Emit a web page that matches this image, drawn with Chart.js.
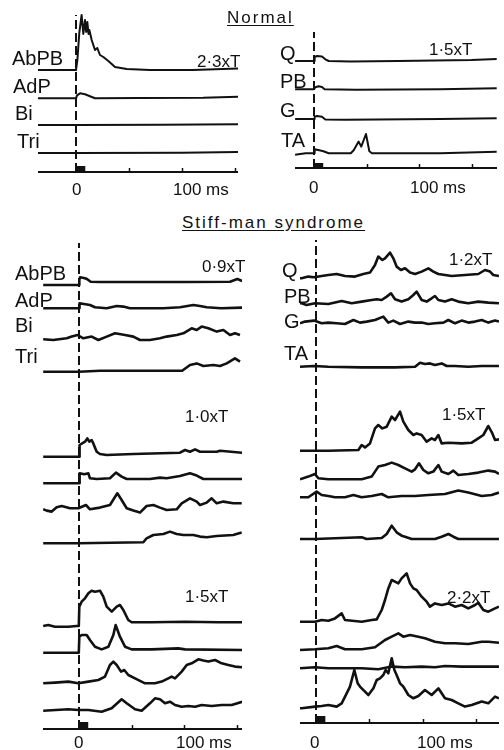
<!DOCTYPE html>
<html>
<head>
<meta charset="utf-8">
<script src="https://cdn.jsdelivr.net/npm/chart.js@4.4.1/dist/chart.umd.min.js"></script>
<style>
  body { margin: 0; width: 504px; height: 750px; background: #fff; position: relative; overflow: hidden;
         font-family: "Liberation Sans", Arial, sans-serif; color: #111; }
  canvas { position: absolute; }
  .lbl { position: absolute; white-space: nowrap; line-height: 1; }
  .title { letter-spacing: 2px; text-decoration: underline; text-underline-offset: 2px; }
</style>
</head>
<body>
<script>
// Time axis (ms) and labels
const tickMs = [0, 50, 100, 150];
const tickLabels = ["0", "100 ms"];
const stimulusMs = [0, 9];
const armMuscles = ["AbPB", "AdP", "Bi", "Tri"];
const legMuscles = ["Q", "PB", "G", "TA"];
const titles = ["Normal", "Stiff-man syndrome"];
const intensities = ["2·3xT", "1·5xT", "0·9xT", "1·0xT", "1·5xT", "1·2xT", "1·5xT", "2·2xT"];

// Traces: [ms, amplitude] -- Normal, arm muscles at 2.3xT
const nAbPB = [[-36,0],[0,0],[1.3,10],[3.1,37],[5.3,55],[6.9,36],[8.5,50],[9.6,38],[10.7,48],[11.8,36],[12.6,40],[14.8,30],[17.9,20],[20.1,22],[22.6,15],[25.8,13],[30.5,9],[36.8,3],[47.8,1],[69.8,0],[110,0],[153,1.5]];
const nAdP = [[-36,0],[0,0],[1,3],[3.8,5],[8.5,4],[13.2,2],[17.9,0],[60,0.3],[120,0.5],[153,1.5]];
const nBi = [[-36,0],[0,0],[80,0.3],[153,0.8]];
const nTri = [[-36,0],[0,0],[100,0.3],[153,1]];

// Normal, leg muscles at 1.5xT
const nQ = [[-18,0],[0,0],[0.6,4],[2.9,5],[7.6,4.5],[10.8,1.7],[14,0],[35,-0.5],[80,0],[150,1],[174,2]];
const nPB = [[-18,0],[0,0],[1.3,2],[4.4,3],[7.6,2.3],[10.1,0],[40,-0.5],[120,0],[174,1]];
const nG = [[-18,0],[0,0],[0.6,2.3],[2.9,3],[7.6,2.3],[10.8,-0.5],[30,-0.8],[120,0],[174,0.8]];
const nTA = [[-18,-1.5],[-8,0],[0,0],[0.6,4],[4,3.3],[9,2],[14,0],[35,0],[37.8,3],[42.5,11.7],[45,6.7],[49.5,19.3],[52.7,2],[55.2,0],[120,0],[174,1.5]];

// Stiff-man, arm muscles at 0.9xT
const s09AbPB = [[-34,0],[0,0],[0.3,5],[1,7.7],[5.7,6.7],[7.9,5.7],[11.1,3.3],[19.9,3],[100,3],[143.4,3.3],[150.4,6],[155,4]];
const s09AdP = [[-34,0],[0,0],[0.5,5],[10.4,3.3],[15.2,1],[26.3,0],[35.8,2.3],[42.1,1.7],[48.4,0],[80,0],[95.9,1],[108.6,3.3],[114.9,2.3],[121.3,1],[135,0],[155,0.7]];
const s09Bi = [[-34,-1],[-24.4,-1.7],[-11.7,0],[-6.9,1.7],[-1.3,3.3],[4.1,0],[12,1.7],[18.4,-1.7],[26.3,1.7],[34.2,5],[43.7,3.3],[51.6,1.7],[57.9,-1.7],[67.4,-1.7],[76.9,0],[83.2,1.7],[92.8,3.3],[99.1,5],[107,10],[111.8,8.3],[116.5,11.7],[122.8,10],[130.8,6.7],[137.1,8.3],[143.4,3.3],[148.1,5],[152.9,3.3]];
const s09Tri = [[-34,0],[0,0],[20,1],[98,1],[105.4,6.7],[111.8,8.3],[118.1,5.7],[127.6,6.7],[133.9,5.7],[140.3,8.3],[148.1,13.3],[152.9,10]];

// Stiff-man, arm muscles at 1.0xT
const s10AbPB = [[-34,0],[0,0],[0.2,10],[0.9,11.7],[5.7,15],[7.9,18.3],[9.8,15],[12,16.7],[13.6,13.3],[16.8,5],[19.9,2.7],[26.3,1.7],[51.6,2.7],[95.9,4],[100.7,6.7],[105.4,5],[110.2,7.3],[114.9,5],[130.8,5],[133.9,6],[155,4]];
const s10AdP = [[-34,0],[0,0],[0.3,8.3],[0.9,10],[5,9],[8.9,10],[10.4,5],[16.8,4.3],[29.4,5],[35.1,10.7],[40.5,6.7],[45.3,4.3],[67.4,4.3],[76.9,5.7],[83.2,5],[95.9,7.3],[105.4,10],[111.8,7.7],[118.1,4.3],[155,4.3]];
const s10Bi = [[-34,-1],[-30.7,-2.3],[-25.9,-3.3],[-21.2,1],[-16.4,2.3],[-8.5,0],[-0.6,0],[6.6,3.3],[10.4,-1],[19.9,0.7],[29.4,3.3],[36.4,15],[40.5,8.3],[45.3,0],[51.6,-2.3],[57.9,-4.3],[64.2,2.3],[70.6,3.3],[76.9,0.7],[83.2,-1.7],[92.8,-1],[97.5,5],[105.4,10],[111.8,6.7],[114.9,3.3],[121.3,5.7],[126,10],[130.8,5],[137.1,6.7],[146.5,5],[154.5,5]];
const s10Tri = [[-34,0],[0,0],[30,0.5],[61.1,1],[64.2,5],[70.6,8.3],[80.1,9.3],[86.4,11.7],[92.8,9.3],[99.1,8.3],[108.6,8.3],[114.9,6.7],[121.3,6],[130.8,7.3],[146.5,8.3],[154.5,10.7]];

// Stiff-man, arm muscles at 1.5xT
const s15AbPB = [[-34,0],[-29.2,1],[-22.8,-0.7],[-10.1,-0.7],[-2.2,0],[-0.2,0],[0.3,19.3],[2.5,24.3],[5.7,27.7],[8.9,32.7],[12,35.3],[15.2,34.3],[19.9,35.3],[23.1,29.3],[26.3,19.3],[31.1,14.3],[35.8,19.3],[38.9,21],[42.1,16],[46.8,6],[50,3.7],[69,3.7],[100.7,4.3],[132.3,3.7],[155,3.7]];
const s15AdP = [[-34,0],[-0.2,0],[0.3,16],[2.5,17.7],[7.3,17.7],[10.4,12.7],[15.2,6],[21.5,3.3],[27.9,6],[32.6,17.7],[34.8,27.7],[38.9,16],[43.7,6],[50,3.3],[69,3.3],[94.3,4.3],[100.7,3.3],[155,2.7]];
const s15Bi = [[-34,0],[-22.8,0.7],[-10.1,1.7],[-0.6,0],[8.9,1.7],[18.4,3.3],[24.7,6.7],[29.4,18.3],[32.6,21.7],[35.8,18.3],[39.9,11.7],[43,13.3],[46.8,8.3],[53.2,5],[62.7,0],[72.2,0],[78.5,1.7],[84.8,5],[88,6.7],[91.2,5],[97.5,11.7],[102.3,18.3],[107,20],[113.3,24],[118.1,22.7],[122.8,21.7],[129.2,23.3],[135.5,20],[141.8,18.3],[148.1,16.7],[155,16]];
const s15Tri = [[-34,-0.7],[-10.1,0.7],[-0.6,0],[8.9,0],[21.5,-1.7],[31,1.7],[40.5,10.7],[45.3,6.7],[53.2,0.7],[59.5,-0.7],[67.4,6.7],[72.2,11.7],[76.9,10.7],[81.7,6.7],[86.4,8.3],[91.2,5],[97.5,3.3],[103.8,4],[110.2,3.3],[116.5,5],[126,4],[135.5,5],[145,5],[155,8.3]];

// Stiff-man, leg muscles at 1.2xT
const s12Q = [[-15,0],[-13.5,0],[-7.2,1.7],[-1.9,1],[5.3,2.3],[11.6,3.3],[19.4,4.3],[27.2,2.3],[36.6,1.7],[44.4,4.3],[50.7,5.7],[55.4,13.3],[58.5,21.7],[62.3,18.3],[64.8,20],[69.5,25.7],[72.6,20],[75.7,11.7],[79.8,8.3],[83.6,10],[88.3,5.7],[93,4.3],[99.2,6.7],[105.5,10],[110.2,6.7],[114.9,4.3],[127.4,2.3],[139.9,3.3],[152.4,4.3],[158.7,8.3],[163.4,6.7],[166.5,3.3],[171.8,2.3]];
const s12PB = [[-15,0],[-13.5,0],[-8.8,-1.7],[-0.9,0],[11.6,-0.7],[24.1,2.3],[33.5,0],[42.9,1.7],[52.3,3.3],[57,4],[61.7,3.3],[66.4,6.7],[70.4,10],[74.2,4],[80.4,1.7],[86.7,4],[91.4,8.3],[94.5,11.7],[99.2,3.3],[103.9,1.7],[108.6,5],[111.7,7.3],[114.9,3.3],[121.1,1.7],[127.4,4],[133.6,1.7],[143,0],[152.4,1.7],[161.8,0.7],[171.8,0]];
const s12G = [[-15,0],[-10.3,1.7],[-1.9,2.7],[5.3,0],[11.6,0.7],[19.4,0],[27.2,-0.7],[35.1,3.3],[41.3,0.7],[47.6,1.7],[55.4,3.3],[63.2,6.7],[67.9,0.7],[72.6,2.7],[78.9,-0.7],[86.7,1.7],[93,0.7],[99.2,0.7],[105.5,-0.7],[111.7,0],[119.6,0.7],[124.3,3.3],[130.5,0],[136.8,2.7],[143,0.7],[149.3,1.7],[155.6,3.3],[161.8,0.7],[168.1,2.7],[171.8,1.7]];
const s12TA = [[-15,0],[-1.9,0.7],[11.6,0],[42.9,-0.7],[74.2,-0.7],[93,0],[97.7,4],[102.3,2.7],[107,3.3],[111.7,1.7],[118,3.3],[122.7,0.7],[130.5,0.7],[143,0],[155.6,0.7],[171.8,0.7]];

// Stiff-man, leg muscles at 1.5xT
const s15Q = [[-15,0],[11.6,0],[39.8,0.7],[42.9,5.7],[46,3.3],[50.7,7.3],[55.4,22.3],[58.5,25.7],[62.3,22.3],[66.4,24],[71.1,34],[74.2,30.7],[78.9,39],[82,29],[86.7,20.7],[91.4,15.7],[94.5,17.3],[99.2,15.7],[103.9,9],[108.6,12.3],[111.7,10.7],[114.9,15.7],[118,7.3],[124.3,8],[136.8,7.3],[146.2,8],[152.4,12.3],[157.1,15.7],[161.8,24.7],[165.6,17.3],[168.1,10.7],[171.8,11.3]];
const s15PB = [[-15,0],[-7.2,2.7],[-1,5.3],[2.2,1],[11.6,0],[27.2,0],[42.9,0],[52.3,2.7],[58.5,12.7],[64.8,14.3],[71.1,16.7],[77.3,14.3],[83.6,11],[89.8,7.7],[93,10],[96.7,16],[100.8,9.3],[105.5,6],[110.2,7.7],[114.9,14.3],[118,7.7],[124.3,5.3],[129,8.7],[133.6,4.3],[143,5.3],[152.4,6.7],[161.8,8.7],[168.1,7.7],[171.8,5.3]];
const s15G = [[-15,0],[-7.2,0],[0.6,5.7],[5.3,2.3],[11.6,1.3],[17.8,0],[27.2,0],[35.1,2.3],[42.9,0],[52.3,1.3],[61.7,3.3],[67.9,0],[80.4,1.3],[93,1.3],[105.5,2.3],[121.1,3.3],[133.6,6.7],[143,4.7],[155.6,1.3],[164.9,2.3],[171.8,4.7]];
const s15TA = [[-15,0],[-0.9,0],[42.9,1.7],[47.6,0],[61.7,1],[66.4,5],[71.1,13.3],[75.7,6.7],[80.4,3.3],[83.6,2.3],[89.8,0],[111.7,0],[118,2.3],[124.3,5],[129,2.3],[133.6,0],[171.8,0]];

// Stiff-man, leg muscles at 2.2xT
const s22Q = [[-15,0],[-0.9,0],[5.3,1.7],[11.6,1],[17.8,3.3],[24.1,8.3],[27.2,1.7],[42.9,0],[52.3,1.7],[57,2.3],[61.7,11.7],[64.8,21.7],[67.9,33.3],[71.1,41.7],[74.2,40],[77.3,38.3],[80.4,43.3],[85.1,48.3],[88.3,38.3],[91.4,33.3],[94.5,31.7],[99.2,25],[103.9,20],[107,15],[111.7,18.3],[118,16.7],[124.3,18.3],[130.5,15],[136.8,16.7],[143,13.3],[149.3,16.7],[152.4,19],[157.1,11.7],[161.8,10],[168.1,13.3],[171.8,15]];
const s22PB = [[-15,0],[-0.9,0.7],[11.6,1.7],[19.4,4],[27.2,0.7],[42.9,0.7],[55.4,2.7],[64.8,10],[71.1,13.3],[77.3,16.7],[82,13.3],[88.3,15],[96.1,13.3],[102.3,11.7],[111.7,8.3],[121.1,6.7],[130.5,6.7],[143,6],[155.6,8.3],[161.8,8.3],[171.8,7.3]];
const s22G = [[-15,0],[-0.9,1],[11.6,0],[27.2,0],[42.9,0],[58.5,-1],[71.1,1.7],[83.6,1],[99.2,1.7],[111.7,1],[121.1,2.3],[136.8,1.7],[155.6,1.7],[171.8,1.7]];
const s22TA = [[-15,0],[-13.5,0],[-0.9,1.7],[5.3,2.3],[11.6,3.3],[19.4,1.7],[24.1,5],[28.8,15],[31.9,21.7],[36,38.3],[39.1,25],[41.3,21.7],[46,16.7],[49.2,13.3],[53.9,20],[57,28.3],[60.1,30],[63.2,33.3],[65.4,38.3],[67.9,35],[71.1,50],[73.6,38.3],[75.7,33.3],[78.9,25],[82,21.7],[86.7,13.3],[91.4,10],[96.1,12.3],[102.3,18.3],[108.6,13.3],[114.9,20],[121.1,10],[127.4,8.3],[133.6,5],[139.9,1.7],[146.2,3.3],[155.6,6.7],[161.8,5],[168.1,11.7],[171.8,10]];

// Panel layout (page pixels); trace offsets are heights above the time axis
const panels = [
  { left: 38, right: 238, x0: 76, k: 1.06, top: 10, axisY: 172, dashTop: 15, stimH: 6, lw: 2,
    traces: [[nAbPB, 102], [nAdP, 73.7], [nBi, 47], [nTri, 19]] },
  { left: 295, right: 497, x0: 314, k: 1.05, top: 25, axisY: 168, dashTop: 32, stimH: 5, lw: 2,
    traces: [[nQ, 107], [nPB, 78.7], [nG, 49], [nTA, 14.7]] },
  { left: 43, right: 242, x0: 79, k: 1.053, top: 236, axisY: 729, dashTop: 243, stimH: 7, lw: 2.6,
    traces: [[s09AbPB, 444], [s09AdP, 420.7], [s09Bi, 390.7], [s09Tri, 357.3],
             [s10AbPB, 272.3], [s10AdP, 245.7], [s10Bi, 220.7], [s10Tri, 185.7],
             [s15AbPB, 103], [s15AdP, 76.3], [s15Bi, 45.7], [s15Tri, 19]] },
  { left: 300, right: 499, x0: 316, k: 1.065, top: 233, axisY: 723, dashTop: 240, stimH: 7, lw: 2.6,
    traces: [[s12Q, 444.7], [s12PB, 419.7], [s12G, 399.7], [s12TA, 356.3],
             [s15Q, 272.3], [s15PB, 243.7], [s15G, 225.7], [s15TA, 184],
             [s22Q, 101.3], [s22PB, 73], [s22G, 54.7], [s22TA, 14.7]] }
];

const INK = "#111";

// small upward tick marks on the time axis
const axisTicks = {
  id: "axisTicks",
  afterDatasetsDraw(chart) {
    const { ctx, chartArea, scales: { x } } = chart;
    ctx.save();
    ctx.strokeStyle = INK;
    ctx.lineWidth = 1.5;
    tickMs.forEach((t) => {
      if (t < x.min || t > x.max) return;
      const px = Math.round(x.getPixelForValue(t)) + 0.5;
      ctx.beginPath();
      ctx.moveTo(px, chartArea.bottom);
      ctx.lineTo(px, chartArea.bottom - 4);
      ctx.stroke();
    });
    ctx.restore();
  },
};

panels.forEach((p) => {
  const cv = document.createElement("canvas");
  const h = p.axisY - p.top + 6;
  cv.width = p.right - p.left;
  cv.height = h;
  cv.style.left = p.left + "px";
  cv.style.top = p.top + "px";
  document.body.appendChild(cv);

  const datasets = p.traces.map(([pts, off]) => ({
    data: pts.map(([t, a]) => ({ x: t, y: off + a })),
    borderColor: INK,
    borderWidth: p.lw,
    fill: false,
  }));
  // stimulus onset (dashed) and stimulus block
  datasets.push({
    data: [{ x: 0, y: 0 }, { x: 0, y: p.axisY - p.dashTop }],
    borderColor: INK,
    borderWidth: 2,
    borderDash: [9, 4],
    fill: false,
  });
  datasets.push({
    data: stimulusMs.map((t) => ({ x: t, y: p.stimH })),
    borderWidth: 0,
    backgroundColor: INK,
    fill: { value: 0 },
  });

  new Chart(cv, {
    type: "line",
    data: { datasets },
    options: {
      responsive: false,
      animation: false,
      devicePixelRatio: 1,
      events: [],
      layout: { padding: 0 },
      plugins: { legend: { display: false }, tooltip: { enabled: false } },
      elements: { point: { radius: 0 }, line: { tension: 0, borderJoinStyle: "round", borderCapStyle: "butt" } },
      scales: {
        x: {
          type: "linear",
          min: (p.left - p.x0) / p.k,
          max: (p.right - p.x0) / p.k,
          grid: { display: false },
          ticks: { display: false },
          border: { display: true, color: INK, width: 2 },
          afterFit: (s) => { s.height = 6; },
        },
        y: { type: "linear", min: 0, max: p.axisY - p.top, display: false },
      },
    },
    plugins: [axisTicks],
  });
});

// Text: [text, left, baseline, size, extra class]
function addText(text, left, baseline, size, cls) {
  const d = document.createElement("div");
  d.className = "lbl" + (cls ? " " + cls : "");
  d.textContent = text;
  d.style.fontSize = size + "px";
  d.style.left = left + "px";
  d.style.top = (baseline - 0.85 * size) + "px";
  document.body.appendChild(d);
}

addText(titles[0], 227, 23, 17, "title");
addText(titles[1], 182, 228, 17, "title");

const armNamePos = [[12, 65], [13, 93], [15, 120], [17, 148], [15, 280], [15, 307], [15, 332], [15, 363]];
armNamePos.forEach(([x, y], i) => addText(armMuscles[i % 4], x, y, 20));
const legNamePos = [[280, 60], [280, 88], [280, 117], [281, 147], [282, 277], [284, 303], [284, 328], [284, 360]];
legNamePos.forEach(([x, y], i) => addText(legMuscles[i % 4], x, y, 20));

const intensityPos = [[197, 67], [429, 55], [202, 272], [185, 422], [185, 602], [449, 265], [442, 420], [447, 603]];
intensityPos.forEach(([x, y], i) => addText(intensities[i], x, y, 17));

const axisLabelPos = [[[72, 195], [173, 195]], [[309, 193], [410, 193]], [[74, 748], [176, 748]], [[310, 748], [417, 748]]];
axisLabelPos.forEach((pair) => pair.forEach(([x, y], i) => addText(tickLabels[i], x, y, 17)));
</script>
</body>
</html>
